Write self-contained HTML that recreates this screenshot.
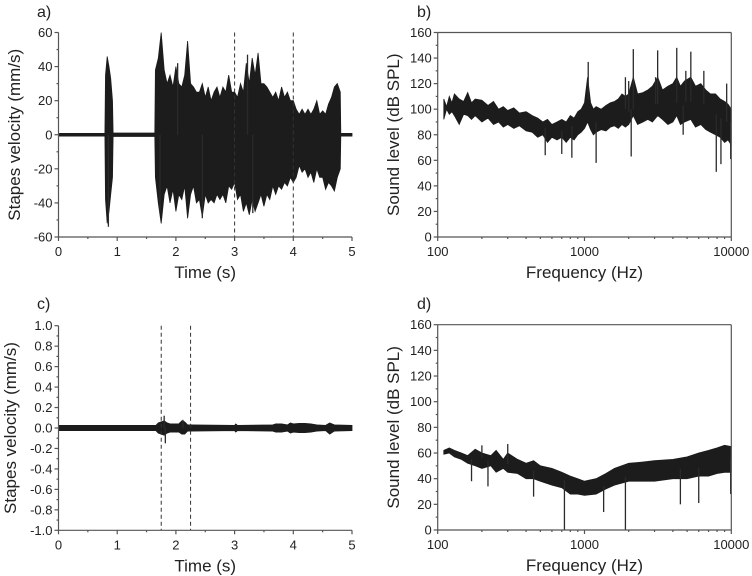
<!DOCTYPE html>
<html><head><meta charset="utf-8"><style>
html,body{margin:0;padding:0;background:#fff}
svg{display:block;font-family:"Liberation Sans",Arial,sans-serif}
</style></head><body>
<svg id="fig" width="752" height="576" viewBox="0 0 752 576"></svg>
<script>
// ---- Panel a data (time envelope, mm/s)
const aT  = [0,0.79,0.8,0.83,0.86,0.89,0.92,0.93,1.64,
 1.65,1.70,1.75,1.80,1.85,1.90,1.95,2.00,2.05,2.10,2.15,2.20,2.25,2.30,2.35,2.40,2.45,2.50,2.55,2.60,2.65,2.70,2.75,2.80,2.85,2.90,2.95,3.00,3.05,3.10,3.15,3.20,3.25,3.30,3.35,3.40,3.45,3.50,3.55,3.60,3.65,3.70,3.75,3.80,3.85,3.90,3.95,4.00,4.05,4.10,4.15,4.20,4.25,4.30,4.35,4.40,4.45,4.50,4.55,4.60,4.65,4.70,4.75,4.80,
 4.81,5.0];
const aUp = [0.8,0.8,35,46,40,33,20,1,1,
 38,45,60,38,30,35,28,40,30,28,35,55,30,28,25,25,30,22,28,20,25,28,22,28,25,35,25,25,22,30,25,42,30,45,35,48,30,30,28,25,22,25,20,28,22,25,20,20,15,12,15,12,15,12,15,20,12,14,12,18,22,28,30,25,
 0.8,0.8];
const aLo = [-0.8,-0.8,-38,-52,-45,-35,-25,-1,-1,
 -25,-40,-52,-35,-30,-40,-32,-45,-35,-38,-30,-49,-35,-30,-40,-38,-48,-35,-40,-38,-40,-35,-38,-35,-40,-30,-32,-28,-38,-35,-45,-40,-47,-38,-45,-40,-35,-42,-35,-38,-30,-35,-30,-32,-28,-30,-25,-28,-25,-18,-22,-20,-25,-22,-28,-20,-25,-25,-32,-28,-30,-33,-25,-20,
 -0.8,-0.8];
const aSpT = [0.85,1.73,2.03,2.45,3.22,3.31];
const aSpV = [-54,-45,42,-49,47,-46];
const aDash = [3,4];
// ---- Panel b data (spectrum, dB SPL)
const bF  = [110,115,120,125,130,140,150,160,170,180,200,220,240,260,280,300,330,360,400,440,480,520,560,600,650,700,750,800,850,900,950,1000,1050,1100,1150,1200,1300,1400,1500,1600,1700,1800,1900,2000,2150,2300,2500,2700,2900,3150,3400,3700,4000,4250,4500,4800,5300,5700,6200,6700,7200,7800,8400,9000,9500,10000];
const bUp = [108,102,110,105,112,108,106,113,105,108,107,103,106,100,102,99,101,97,98,95,93,90,92,88,90,92,90,95,93,98,100,105,125,105,100,102,100,103,105,106,108,112,110,112,125,112,113,115,118,125,115,118,120,125,118,122,125,118,120,115,112,112,108,106,104,100];
const bLo = [92,100,96,98,95,88,96,95,92,95,90,93,88,90,86,88,85,87,83,82,78,80,74,78,76,78,74,78,76,80,82,85,90,84,80,82,84,83,86,87,85,88,86,88,95,88,90,92,90,95,92,88,90,95,88,90,92,86,88,84,82,80,78,74,76,72];
const bSpF = [1060,2150,3150,4250,5300,1900,3050,4900,6500,2000,9300,540,700,1200,2080,7900,8500,9900,820,4700];
const bSpV = [137,147,146,148,145,125,125,130,130,122,120,64,65,58,63,51,57,61,62,80];
// ---- Panel c data (mm/s)
const cT  = [0,1.66,1.7,1.75,1.8,1.85,1.9,2.05,2.1,2.15,2.2,2.25,3.0,3.02,3.05,3.65,3.7,3.8,3.9,3.95,4.0,4.1,4.2,4.3,4.4,4.55,4.62,4.7,5.0];
const cUp = [0.025,0.025,0.05,0.06,0.07,0.05,0.04,0.04,0.07,0.06,0.03,0.03,0.025,0.04,0.025,0.03,0.04,0.04,0.03,0.05,0.04,0.045,0.045,0.04,0.03,0.025,0.05,0.03,0.025];
const cLo = [-0.025,-0.025,-0.05,-0.06,-0.07,-0.05,-0.04,-0.04,-0.06,-0.06,-0.03,-0.03,-0.025,-0.04,-0.025,-0.03,-0.04,-0.04,-0.03,-0.05,-0.04,-0.045,-0.045,-0.04,-0.03,-0.025,-0.06,-0.03,-0.025];
const cSpT = [1.8,1.82,2.12];
const cSpV = [0.12,-0.15,0.08];
const cDash = [1.75,2.25];
// ---- Panel d data (dB SPL)
const dF  = [110,120,130,145,160,180,200,230,250,280,300,350,400,450,500,600,700,800,900,1000,1200,1400,1600,2000,2500,3000,4000,5000,6000,7000,8000,9000,10000];
const dUp = [62,64,62,60,58,63,60,58,62,55,60,55,52,54,50,48,45,42,40,38,40,44,48,52,53,54,55,57,60,62,64,66,65];
const dLo = [59,60,57,55,52,50,48,50,45,48,45,44,40,40,38,35,33,28,28,27,28,32,35,38,38,38,40,40,42,42,44,45,45];
const dSpF = [730,1900,170,220,450,1350,4500,6000,9900,300,200];
const dSpV = [0,0,38,34,26,14,20,21,28,67,66];

const NS="http://www.w3.org/2000/svg";
const svg=document.getElementById('fig');
function el(tag,attrs,parent){const e=document.createElementNS(NS,tag);for(const k in attrs)e.setAttribute(k,attrs[k]);(parent||svg).appendChild(e);return e;}
function txt(x,y,s,size,anchor,parent,rot){const t=el('text',{x:x,y:y,'font-size':size,'text-anchor':anchor||'middle',fill:'#222'},parent);if(rot)t.setAttribute('transform',rot);t.textContent=s;return t;}

function panel(o){
  const g=el('g',{});
  
  
  const X=o.log?(v=>o.x0+(Math.log10(v)-2)/2*(o.x1-o.x0)):(v=>o.x0+(v-o.xmin)/(o.xmax-o.xmin)*(o.x1-o.x0));
  const Y=v=>o.y1-(v-o.ymin)/(o.ymax-o.ymin)*(o.y1-o.y0);
  const dg=el('g',{},g);
  
  
  let pts=[];
  for(let i=0;i<o.xs.length;i++)pts.push(X(o.xs[i]).toFixed(1)+','+Y(o.up[i]).toFixed(1));
  for(let i=o.xs.length-1;i>=0;i--)pts.push(X(o.xs[i]).toFixed(1)+','+Y(o.lo[i]).toFixed(1));
  const poly=el('polygon',{points:pts.join(' '),fill:'#1c1c1c',stroke:'#1c1c1c','stroke-width':0.8,'stroke-linejoin':'miter'},dg);
  
  
  for(let i=0;i<o.spX.length;i++){
    let y0;
    if(o.log){
      let j=0;while(j<o.xs.length-1&&o.xs[j+1]<o.spX[i])j++;
      y0=(o.up[j]+o.lo[j])/2;
    } else y0=0;
    const ln=el('line',{x1:X(o.spX[i]),x2:X(o.spX[i]),y1:Y(y0),y2:Y(o.spV[i]),stroke:'#2a2a2a','stroke-width':1.3},dg);
    
    
  }
  (o.dash||[]).forEach(d=>{
    const ln=el('line',{x1:X(d),x2:X(d),y1:o.y0,y2:o.y1,stroke:'#333','stroke-width':1,'stroke-dasharray':'4,3'},g);
    
    
  });
  const ax=el('g',{stroke:'#555','stroke-width':1.2,fill:'none'},g);
  el('line',{x1:o.x0,x2:o.x0,y1:o.y0,y2:o.y1},ax);
  el('line',{x1:o.x0,x2:o.x1,y1:o.y1,y2:o.y1},ax);
  if(o.frame){el('line',{x1:o.x0,x2:o.x1,y1:o.y0,y2:o.y0},ax);el('line',{x1:o.x1,x2:o.x1,y1:o.y0,y2:o.y1},ax);}
  o.yt.forEach((v,i)=>{const y=Y(v);el('line',{x1:o.x0-4,x2:o.x0,y1:y,y2:y},ax);
    const t=txt(o.x0-6,y+4.5,o.ytl[i],13,'end',g);});
  o.ymin2.forEach(v=>{const y=Y(v);el('line',{x1:o.x0-2,x2:o.x0,y1:y,y2:y},ax);});
  o.xt.forEach((v,i)=>{const x=X(v);el('line',{x1:x,x2:x,y1:o.y1,y2:o.y1+4},ax);
    const t=txt(x,o.y1+19,o.xtl[i],13,'middle',g);});
  o.xmin2.forEach(v=>{const x=X(v);el('line',{x1:x,x2:x,y1:o.y1,y2:o.y1+2},ax);});
  let t=txt((o.x0+o.x1)/2,o.y1+41,o.xlab,17,'middle',g);
  t=txt(0,0,o.ylab,17,'middle',g,'translate('+o.ylx+','+((o.y0+o.y1)/2)+') rotate(-90)');
  t=txt(o.lx,o.ly,o.letter,16,'start',g);
}
const lin5=[0,1,2,3,4,5],lin5h=[0.5,1.5,2.5,3.5,4.5];
const logT=[100,1000,10000],logM=[];for(const d of [100,1000])for(let k=2;k<10;k++)logM.push(d*k);
panel({name:'panel-a',x0:58.5,x1:352,y0:32.5,y1:237,xmin:0,xmax:5,ymin:-60,ymax:60,xs:aT,up:aUp,lo:aLo,spX:aSpT,spV:aSpV,dash:aDash,
  yt:[-60,-40,-20,0,20,40,60],ytl:['-60','-40','-20','0','20','40','60'],ymin2:[-50,-30,-10,10,30,50],
  xt:lin5,xtl:['0','1','2','3','4','5'],xmin2:lin5h,xlab:'Time (s)',ylab:'Stapes velocity (mm/s)',ylx:20,lx:37,ly:17,letter:'a)'});
panel({name:'panel-b',log:true,frame:true,x0:437.7,x1:731.3,y0:32.5,y1:237,ymin:0,ymax:160,xs:bF,up:bUp,lo:bLo,spX:bSpF,spV:bSpV,
  yt:[0,20,40,60,80,100,120,140,160],ytl:['0','20','40','60','80','100','120','140','160'],ymin2:[10,30,50,70,90,110,130,150],
  xt:logT,xtl:['100','1000','10000'],xmin2:logM,xlab:'Frequency (Hz)',ylab:'Sound level (dB SPL)',ylx:399,lx:417,ly:17,letter:'b)'});
panel({name:'panel-c',x0:58.5,x1:352,y0:325.7,y1:530.3,xmin:0,xmax:5,ymin:-1,ymax:1,xs:cT,up:cUp,lo:cLo,spX:cSpT,spV:cSpV,dash:cDash,
  yt:[-1,-0.8,-0.6,-0.4,-0.2,0,0.2,0.4,0.6,0.8,1],ytl:['-1.0','-0.8','-0.6','-0.4','-0.2','0.0','0.2','0.4','0.6','0.8','1.0'],ymin2:[-0.9,-0.7,-0.5,-0.3,-0.1,0.1,0.3,0.5,0.7,0.9],
  xt:lin5,xtl:['0','1','2','3','4','5'],xmin2:lin5h,xlab:'Time (s)',ylab:'Stapes velocity (mm/s)',ylx:16,lx:37,ly:309,letter:'c)'});
panel({name:'panel-d',log:true,frame:true,x0:437.7,x1:731.3,y0:324.7,y1:530,ymin:0,ymax:160,xs:dF,up:dUp,lo:dLo,spX:dSpF,spV:dSpV,
  yt:[0,20,40,60,80,100,120,140,160],ytl:['0','20','40','60','80','100','120','140','160'],ymin2:[10,30,50,70,90,110,130,150],
  xt:logT,xtl:['100','1000','10000'],xmin2:logM,xlab:'Frequency (Hz)',ylab:'Sound level (dB SPL)',ylx:399,lx:417,ly:309,letter:'d)'});
</script>
</body></html>
